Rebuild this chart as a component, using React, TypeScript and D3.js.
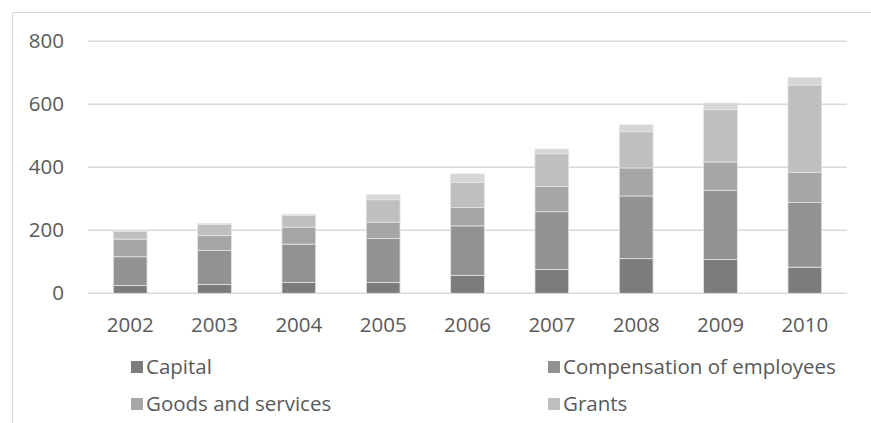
import React from "react";
import * as d3 from "d3";

const years = ["2002", "2003", "2004", "2005", "2006", "2007", "2008", "2009", "2010"];
const capital = [25, 28, 34, 34, 57, 76, 110, 107, 83];
const compensation = [91, 108, 122, 140, 157, 183, 199, 220, 205];
const goodsServices = [56, 47, 54, 52, 58, 80, 89, 90, 96];
const grants = [24, 36, 37, 71, 80, 104, 115, 166, 277];
const other = [2, 3, 4, 16, 27, 15, 22, 21, 24];
const yTicks = [0, 200, 400, 600, 800];

const seriesNames = ["Capital", "Compensation of employees", "Goods and services", "Grants", "Other"];
const legendNames = ["Capital", "Compensation of employees", "Goods and services", "Grants"];
const seriesColors = ["#7c7c7c", "#929292", "#a6a6a6", "#bfbfbf", "#d6d6d6"];
const seriesValues = [capital, compensation, goodsServices, grants, other];

const W = 871;
const H = 423;
const left = 88;
const right = 847;
const top = 41.3;
const bottom = 293.3;
const font = "'Open Sans', sans-serif";
const fs = 20.5;

export default function App() {
  const x = d3.scaleBand<string>().domain(years).range([left, right]).paddingInner(0.6).paddingOuter(0.3);
  const y = d3.scaleLinear().domain([0, 800]).range([bottom, top]);

  const rows = years.map((yr, i) => {
    const r: any = { year: yr };
    seriesNames.forEach((n, k) => (r[n] = seriesValues[k][i]));
    return r;
  });
  const stack = d3.stack<any>().keys(seriesNames)(rows);

  const legendPos = [
    { x: 131, y: 367 },
    { x: 548, y: 367 },
    { x: 131, y: 404 },
    { x: 548, y: 404 },
  ];

  return (
    <svg width={W} height={H} style={{ position: "absolute", left: 0, top: 0, background: "#fff" }}>
      <line x1={12.5} y1={12.5} x2={W} y2={12.5} stroke="#d9d9d9" />
      <line x1={12.5} y1={12.5} x2={12.5} y2={H} stroke="#d9d9d9" />
      {yTicks.map((t) => (
        <g key={t}>
          <line x1={left} x2={right} y1={y(t)} y2={y(t)} stroke="#d9d9d9" strokeWidth={1.5} />
          <text x={64} y={y(t) + 7} textAnchor="end" fontFamily={font} fontSize={fs} fill="#595959">
            {t}
          </text>
        </g>
      ))}
      {stack.map((s, k) =>
        s.map((d, i) => (
          <rect
            key={k + "-" + i}
            x={x(years[i])!}
            width={x.bandwidth()}
            y={y(d[1])}
            height={y(d[0]) - y(d[1])}
            fill={seriesColors[k]}
            stroke="#e4e4e4"
            strokeWidth={0.8}
          />
        ))
      )}
      {years.map((yr) => (
        <text
          key={yr}
          x={x(yr)! + x.bandwidth() / 2}
          y={332}
          textAnchor="middle"
          fontFamily={font}
          fontSize={fs}
          fill="#595959"
        >
          {yr}
        </text>
      ))}
      {legendNames.map((n, k) => (
        <g key={n}>
          <rect x={legendPos[k].x} y={legendPos[k].y - 6} width={12} height={12} fill={seriesColors[k]} />
          <text x={legendPos[k].x + 15} y={legendPos[k].y + 7} fontFamily={font} fontSize={fs} fill="#595959">
            {n}
          </text>
        </g>
      ))}
    </svg>
  );
}
